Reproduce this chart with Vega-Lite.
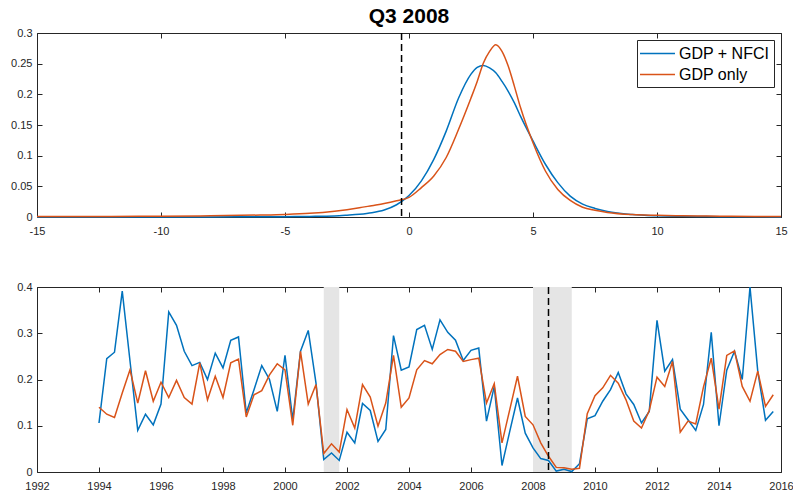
{
  "$schema": "https://vega.github.io/schema/vega-lite/v6.json",
  "padding": {"left": 10, "top": 5, "right": 10, "bottom": 3},
  "background": "white",
  "config": {
    "font": "Liberation Sans",
    "view": {"stroke": "#262626", "strokeWidth": 1},
    "axis": {"domain": false, "grid": false, "tickColor": "#262626", "tickSize": -5, "tickWidth": 1, "labelColor": "#262626", "labelFontSize": 11, "labelFont": "Liberation Sans", "labelPadding": 10, "labelFlush": false, "labelOverlap": false, "title": null, "labelExpr": "toString(datum.value)"},
    "axisX": {"labelPadding": 13}
  },
  "datasets": {
    "dens": [
      {"x": -15, "GDP + NFCI": 0.0000, "GDP only": 0.0008},
      {"x": -12, "GDP + NFCI": 0.0000, "GDP only": 0.0010},
      {"x": -10, "GDP + NFCI": 0.0001, "GDP only": 0.0013},
      {"x": -8, "GDP + NFCI": 0.0002, "GDP only": 0.0020},
      {"x": -6, "GDP + NFCI": 0.0004, "GDP only": 0.0032},
      {"x": -5, "GDP + NFCI": 0.0006, "GDP only": 0.0042},
      {"x": -4, "GDP + NFCI": 0.0010, "GDP only": 0.0060},
      {"x": -3, "GDP + NFCI": 0.0018, "GDP only": 0.0095},
      {"x": -2.5, "GDP + NFCI": 0.0030, "GDP only": 0.0120},
      {"x": -2, "GDP + NFCI": 0.0045, "GDP only": 0.0150},
      {"x": -1.5, "GDP + NFCI": 0.0070, "GDP only": 0.0185},
      {"x": -1, "GDP + NFCI": 0.0115, "GDP only": 0.0220},
      {"x": -0.5, "GDP + NFCI": 0.0200, "GDP only": 0.0265},
      {"x": 0, "GDP + NFCI": 0.0350, "GDP only": 0.0320},
      {"x": 0.5, "GDP + NFCI": 0.0590, "GDP only": 0.0480},
      {"x": 1, "GDP + NFCI": 0.0940, "GDP only": 0.0670},
      {"x": 1.5, "GDP + NFCI": 0.1400, "GDP only": 0.0970},
      {"x": 2, "GDP + NFCI": 0.1940, "GDP only": 0.1430},
      {"x": 2.5, "GDP + NFCI": 0.2330, "GDP only": 0.1940},
      {"x": 2.75, "GDP + NFCI": 0.2440, "GDP only": 0.2210},
      {"x": 3, "GDP + NFCI": 0.2470, "GDP only": 0.2510},
      {"x": 3.25, "GDP + NFCI": 0.2430, "GDP only": 0.2700},
      {"x": 3.5, "GDP + NFCI": 0.2350, "GDP only": 0.2810},
      {"x": 3.75, "GDP + NFCI": 0.2210, "GDP only": 0.2700},
      {"x": 4, "GDP + NFCI": 0.2050, "GDP only": 0.2460},
      {"x": 4.25, "GDP + NFCI": 0.1860, "GDP only": 0.2130},
      {"x": 4.5, "GDP + NFCI": 0.1640, "GDP only": 0.1780},
      {"x": 5, "GDP + NFCI": 0.1240, "GDP only": 0.1210},
      {"x": 5.5, "GDP + NFCI": 0.0860, "GDP only": 0.0750},
      {"x": 6, "GDP + NFCI": 0.0560, "GDP only": 0.0450},
      {"x": 6.5, "GDP + NFCI": 0.0340, "GDP only": 0.0270},
      {"x": 7, "GDP + NFCI": 0.0210, "GDP only": 0.0160},
      {"x": 7.5, "GDP + NFCI": 0.0140, "GDP only": 0.0110},
      {"x": 8, "GDP + NFCI": 0.0090, "GDP only": 0.0075},
      {"x": 9, "GDP + NFCI": 0.0040, "GDP only": 0.0040},
      {"x": 10, "GDP + NFCI": 0.0020, "GDP only": 0.0028},
      {"x": 11, "GDP + NFCI": 0.0012, "GDP only": 0.0020},
      {"x": 12, "GDP + NFCI": 0.0007, "GDP only": 0.0015},
      {"x": 13, "GDP + NFCI": 0.0004, "GDP only": 0.0012},
      {"x": 15, "GDP + NFCI": 0.0002, "GDP only": 0.0008}
    ],
    "ts": [
      {"t": 1994.00, "GDP + NFCI": 0.106, "GDP only": 0.140},
      {"t": 1994.25, "GDP + NFCI": 0.245, "GDP only": 0.125},
      {"t": 1994.50, "GDP + NFCI": 0.259, "GDP only": 0.118},
      {"t": 1994.75, "GDP + NFCI": 0.391, "GDP only": 0.171},
      {"t": 1995.00, "GDP + NFCI": 0.240, "GDP only": 0.221},
      {"t": 1995.25, "GDP + NFCI": 0.090, "GDP only": 0.149},
      {"t": 1995.50, "GDP + NFCI": 0.125, "GDP only": 0.219},
      {"t": 1995.75, "GDP + NFCI": 0.102, "GDP only": 0.153},
      {"t": 1996.00, "GDP + NFCI": 0.147, "GDP only": 0.194},
      {"t": 1996.25, "GDP + NFCI": 0.346, "GDP only": 0.161},
      {"t": 1996.50, "GDP + NFCI": 0.317, "GDP only": 0.198},
      {"t": 1996.75, "GDP + NFCI": 0.261, "GDP only": 0.161},
      {"t": 1997.00, "GDP + NFCI": 0.230, "GDP only": 0.147},
      {"t": 1997.25, "GDP + NFCI": 0.237, "GDP only": 0.236},
      {"t": 1997.50, "GDP + NFCI": 0.200, "GDP only": 0.156},
      {"t": 1997.75, "GDP + NFCI": 0.257, "GDP only": 0.207},
      {"t": 1998.00, "GDP + NFCI": 0.225, "GDP only": 0.161},
      {"t": 1998.25, "GDP + NFCI": 0.285, "GDP only": 0.236},
      {"t": 1998.50, "GDP + NFCI": 0.292, "GDP only": 0.244},
      {"t": 1998.75, "GDP + NFCI": 0.128, "GDP only": 0.119},
      {"t": 1999.00, "GDP + NFCI": 0.178, "GDP only": 0.167},
      {"t": 1999.25, "GDP + NFCI": 0.230, "GDP only": 0.176},
      {"t": 1999.50, "GDP + NFCI": 0.200, "GDP only": 0.210},
      {"t": 1999.75, "GDP + NFCI": 0.131, "GDP only": 0.234},
      {"t": 2000.00, "GDP + NFCI": 0.252, "GDP only": 0.221},
      {"t": 2000.25, "GDP + NFCI": 0.113, "GDP only": 0.101},
      {"t": 2000.50, "GDP + NFCI": 0.261, "GDP only": 0.261},
      {"t": 2000.75, "GDP + NFCI": 0.306, "GDP only": 0.147},
      {"t": 2001.00, "GDP + NFCI": 0.192, "GDP only": 0.189},
      {"t": 2001.25, "GDP + NFCI": 0.027, "GDP only": 0.040},
      {"t": 2001.50, "GDP + NFCI": 0.041, "GDP only": 0.061},
      {"t": 2001.75, "GDP + NFCI": 0.025, "GDP only": 0.043},
      {"t": 2002.00, "GDP + NFCI": 0.086, "GDP only": 0.135},
      {"t": 2002.25, "GDP + NFCI": 0.063, "GDP only": 0.095},
      {"t": 2002.50, "GDP + NFCI": 0.148, "GDP only": 0.189},
      {"t": 2002.75, "GDP + NFCI": 0.133, "GDP only": 0.162},
      {"t": 2003.00, "GDP + NFCI": 0.066, "GDP only": 0.099},
      {"t": 2003.25, "GDP + NFCI": 0.092, "GDP only": 0.149},
      {"t": 2003.50, "GDP + NFCI": 0.295, "GDP only": 0.252},
      {"t": 2003.75, "GDP + NFCI": 0.220, "GDP only": 0.140},
      {"t": 2004.00, "GDP + NFCI": 0.227, "GDP only": 0.160},
      {"t": 2004.25, "GDP + NFCI": 0.308, "GDP only": 0.221},
      {"t": 2004.50, "GDP + NFCI": 0.317, "GDP only": 0.241},
      {"t": 2004.75, "GDP + NFCI": 0.265, "GDP only": 0.234},
      {"t": 2005.00, "GDP + NFCI": 0.329, "GDP only": 0.254},
      {"t": 2005.25, "GDP + NFCI": 0.302, "GDP only": 0.265},
      {"t": 2005.50, "GDP + NFCI": 0.285, "GDP only": 0.261},
      {"t": 2005.75, "GDP + NFCI": 0.241, "GDP only": 0.239},
      {"t": 2006.00, "GDP + NFCI": 0.263, "GDP only": 0.243},
      {"t": 2006.25, "GDP + NFCI": 0.268, "GDP only": 0.246},
      {"t": 2006.50, "GDP + NFCI": 0.110, "GDP only": 0.149},
      {"t": 2006.75, "GDP + NFCI": 0.185, "GDP only": 0.191},
      {"t": 2007.00, "GDP + NFCI": 0.014, "GDP only": 0.063},
      {"t": 2007.25, "GDP + NFCI": 0.088, "GDP only": 0.135},
      {"t": 2007.50, "GDP + NFCI": 0.160, "GDP only": 0.207},
      {"t": 2007.75, "GDP + NFCI": 0.084, "GDP only": 0.120},
      {"t": 2008.00, "GDP + NFCI": 0.052, "GDP only": 0.102},
      {"t": 2008.25, "GDP + NFCI": 0.029, "GDP only": 0.063},
      {"t": 2008.50, "GDP + NFCI": 0.025, "GDP only": 0.034},
      {"t": 2008.75, "GDP + NFCI": 0.002, "GDP only": 0.010},
      {"t": 2009.00, "GDP + NFCI": 0.006, "GDP only": 0.009},
      {"t": 2009.25, "GDP + NFCI": 0.001, "GDP only": 0.006},
      {"t": 2009.50, "GDP + NFCI": 0.018, "GDP only": 0.008},
      {"t": 2009.75, "GDP + NFCI": 0.115, "GDP only": 0.126},
      {"t": 2010.00, "GDP + NFCI": 0.122, "GDP only": 0.165},
      {"t": 2010.25, "GDP + NFCI": 0.153, "GDP only": 0.182},
      {"t": 2010.50, "GDP + NFCI": 0.178, "GDP only": 0.209},
      {"t": 2010.75, "GDP + NFCI": 0.215, "GDP only": 0.192},
      {"t": 2011.00, "GDP + NFCI": 0.169, "GDP only": 0.156},
      {"t": 2011.25, "GDP + NFCI": 0.146, "GDP only": 0.110},
      {"t": 2011.50, "GDP + NFCI": 0.106, "GDP only": 0.095},
      {"t": 2011.75, "GDP + NFCI": 0.131, "GDP only": 0.133},
      {"t": 2012.00, "GDP + NFCI": 0.328, "GDP only": 0.205},
      {"t": 2012.25, "GDP + NFCI": 0.218, "GDP only": 0.185},
      {"t": 2012.50, "GDP + NFCI": 0.243, "GDP only": 0.239},
      {"t": 2012.75, "GDP + NFCI": 0.136, "GDP only": 0.086},
      {"t": 2013.00, "GDP + NFCI": 0.113, "GDP only": 0.110},
      {"t": 2013.25, "GDP + NFCI": 0.090, "GDP only": 0.104},
      {"t": 2013.50, "GDP + NFCI": 0.146, "GDP only": 0.184},
      {"t": 2013.75, "GDP + NFCI": 0.302, "GDP only": 0.246},
      {"t": 2014.00, "GDP + NFCI": 0.100, "GDP only": 0.136},
      {"t": 2014.25, "GDP + NFCI": 0.220, "GDP only": 0.252},
      {"t": 2014.50, "GDP + NFCI": 0.261, "GDP only": 0.262},
      {"t": 2014.75, "GDP + NFCI": 0.200, "GDP only": 0.185},
      {"t": 2015.00, "GDP + NFCI": 0.400, "GDP only": 0.153},
      {"t": 2015.25, "GDP + NFCI": 0.218, "GDP only": 0.218},
      {"t": 2015.50, "GDP + NFCI": 0.112, "GDP only": 0.142},
      {"t": 2015.75, "GDP + NFCI": 0.131, "GDP only": 0.167}
    ]
  },
  "vconcat": [
    {
      "width": 744,
      "height": 184,
      "title": {"text": "Q3 2008", "fontSize": 21, "fontWeight": "bold", "font": "Liberation Sans", "color": "black", "anchor": "middle", "offset": 0},
      "layer": [
        {
          "data": {"name": "dens"},
          "transform": [{"fold": ["GDP + NFCI", "GDP only"], "as": ["s", "v"]}],
          "mark": {"type": "line", "strokeWidth": 1.5, "interpolate": "monotone"},
          "encoding": {
            "x": {"field": "x", "type": "quantitative", "scale": {"domain": [-15, 15], "nice": false, "zero": false}, "axis": {"orient": "bottom", "values": [-15, -10, -5, 0, 5, 10, 15]}},
            "y": {"field": "v", "type": "quantitative", "scale": {"domain": [0, 0.3], "nice": false}, "axis": {"orient": "left", "values": [0, 0.05, 0.1, 0.15, 0.2, 0.25, 0.3]}},
            "color": {"field": "s", "type": "nominal", "scale": {"domain": ["GDP + NFCI", "GDP only"], "range": ["#0072BD", "#D95319"]},
              "legend": {"orient": "top-right", "title": null, "offset": 7, "strokeColor": "#262626", "fillColor": "white", "padding": 4, "labelFontSize": 16, "labelFont": "Liberation Sans", "labelColor": "black", "symbolType": "M-2,0H2", "symbolStrokeWidth": 1.5, "symbolSize": 306, "symbolOffset": 7, "rowPadding": 3, "labelOffset": 12, "cornerRadius": 0}}
          }
        },
        {
          "data": {"values": [{"x": -0.3}]},
          "mark": {"type": "rule", "strokeDash": [7, 4], "strokeWidth": 1.5, "color": "black"},
          "encoding": {"x": {"field": "x", "type": "quantitative", "axis": null, "scale": {"domain": [-15, 15], "nice": false, "zero": false}}}
        },
        {
          "data": {"name": "dens"},
          "mark": {"type": "point", "opacity": 0},
          "encoding": {
            "x": {"field": "x", "type": "quantitative", "scale": {"domain": [-15, 15], "nice": false, "zero": false}, "axis": {"orient": "top", "labels": false, "values": [-15, -10, -5, 0, 5, 10, 15]}},
            "y": {"field": "GDP only", "type": "quantitative", "scale": {"domain": [0, 0.3], "nice": false}, "axis": {"orient": "right", "labels": false, "values": [0, 0.05, 0.1, 0.15, 0.2, 0.25, 0.3]}}
          }
        }
      ],
      "resolve": {"axis": {"x": "independent", "y": "independent"}}
    },
    {
      "width": 744,
      "height": 185,
      "layer": [
        {
          "data": {"values": [{"s": 2001.25, "e": 2001.75}, {"s": 2008.0, "e": 2009.25}]},
          "mark": {"type": "rect", "color": "#e5e5e5"},
          "encoding": {"x": {"field": "s", "type": "quantitative", "axis": null, "scale": {"domain": [1992, 2016], "nice": false, "zero": false}}, "x2": {"field": "e"}}
        },
        {
          "data": {"name": "ts"},
          "transform": [{"fold": ["GDP + NFCI", "GDP only"], "as": ["s", "v"]}],
          "mark": {"type": "line", "strokeWidth": 1.5},
          "encoding": {
            "x": {"field": "t", "type": "quantitative", "scale": {"domain": [1992, 2016], "nice": false, "zero": false}, "axis": {"orient": "bottom", "values": [1992, 1994, 1996, 1998, 2000, 2002, 2004, 2006, 2008, 2010, 2012, 2014, 2016]}},
            "y": {"field": "v", "type": "quantitative", "scale": {"domain": [0, 0.4], "nice": false}, "axis": {"orient": "left", "values": [0, 0.1, 0.2, 0.3, 0.4]}},
            "color": {"field": "s", "type": "nominal", "scale": {"domain": ["GDP + NFCI", "GDP only"], "range": ["#0072BD", "#D95319"]}, "legend": null}
          }
        },
        {
          "data": {"values": [{"t": 2008.5}]},
          "mark": {"type": "rule", "strokeDash": [7, 4], "strokeWidth": 1.5, "color": "black"},
          "encoding": {"x": {"field": "t", "type": "quantitative", "axis": null, "scale": {"domain": [1992, 2016], "nice": false, "zero": false}}}
        },
        {
          "data": {"name": "ts"},
          "mark": {"type": "point", "opacity": 0},
          "encoding": {
            "x": {"field": "t", "type": "quantitative", "scale": {"domain": [1992, 2016], "nice": false, "zero": false}, "axis": {"orient": "top", "labels": false, "values": [1992, 1994, 1996, 1998, 2000, 2002, 2004, 2006, 2008, 2010, 2012, 2014, 2016]}},
            "y": {"field": "GDP only", "type": "quantitative", "scale": {"domain": [0, 0.4], "nice": false}, "axis": {"orient": "right", "labels": false, "values": [0, 0.1, 0.2, 0.3, 0.4]}}
          }
        }
      ],
      "resolve": {"axis": {"x": "independent", "y": "independent"}}
    }
  ],
  "spacing": 43
}
